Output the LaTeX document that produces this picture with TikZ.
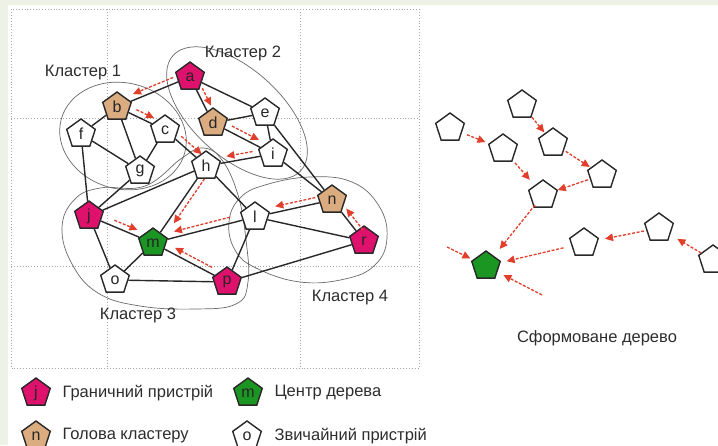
\documentclass[tikz,border=0pt]{standalone}
\usepackage{fontspec}
\setmainfont{Liberation Sans}
\usetikzlibrary{shapes.geometric,arrows.meta,calc}

\definecolor{borderdev}{RGB}{222,18,108}
\definecolor{headdev}{RGB}{218,172,128}
\definecolor{centerdev}{RGB}{28,150,34}
\definecolor{flowred}{RGB}{226,62,44}
\definecolor{edgegray}{RGB}{40,40,40}
\definecolor{gridgray}{RGB}{165,165,165}
\definecolor{clustergray}{RGB}{105,105,105}
\definecolor{paneltint}{RGB}{238,242,230}
\definecolor{labelgray}{RGB}{45,45,45}

\tikzset{
  dev/.style={regular polygon, regular polygon sides=5, minimum size=30pt,
    inner sep=0pt, draw=edgegray, line width=1.4pt,
    font=\fontsize{16}{16}\selectfont, text=black!85},
  ordinary/.style={dev, fill=white},
  border/.style={dev, fill=borderdev},
  head/.style={dev, fill=headdev},
  treecenter/.style={dev, fill=centerdev},
  link/.style={draw=edgegray, line width=1.4pt},
  flow/.style={draw=flowred, line width=1.3pt, dash pattern=on 3pt off 1.6pt,
    -{Triangle[length=8pt,width=7.5pt]}},
  cluster/.style={draw=clustergray, line width=0.7pt},
  gridline/.style={draw=gridgray, line width=0.9pt, dotted},
  caption/.style={font=\fontsize{16.5}{16.5}\selectfont, text=labelgray},
}

% routed hop drawn beside a link: from, to, start fraction, end fraction, side angle
\newcommand\flowarrow[5]{%
  \draw[flow] ($(#1)!#3!(#2)!6pt!#5:(#2)$) -- ($(#1)!#4!(#2)!6pt!#5:(#2)$);}
% hop of the formed tree: from, to, start fraction, end fraction
\newcommand\treearrow[4]{%
  \draw[flow] ($(#1)!#3!(#2)$) -- ($(#1)!#4!(#2)$);}

\begin{document}
\begin{tikzpicture}[x=1pt,y=-1pt]
\clip (0,0) rectangle (718,445);
\fill[white] (0,0) rectangle (718,445);
\fill[paneltint] (0,0) rectangle (8,445);
\fill[paneltint] (0,0) rectangle (718,5);

% dotted grid
\draw[gridline] (11,9) rectangle (419,368);
\draw[gridline] (107,9) -- (107,368);
\draw[gridline] (300,9) -- (300,368);
\draw[gridline] (11,118) -- (419,118);
\draw[gridline] (11,266) -- (419,266);

% cluster outlines
\draw[cluster, rotate around={-15:(123,136)}] (123,136) ellipse [x radius=64, y radius=53];
\draw[cluster, rotate around={-42:(237,113)}] (237,113) ellipse [x radius=86, y radius=44];
\draw[cluster] plot[smooth cycle, tension=0.7] coordinates {
  (62,228) (72,264) (98,293) (140,306) (195,309) (236,304) (248,282)
  (246,240) (238,195) (222,160) (203,148) (182,158) (145,186) (100,188) (74,200)};
\draw[cluster] plot[smooth cycle, tension=0.7] coordinates {
  (229,222) (240,198) (265,185) (310,177) (352,182) (379,206) (387,238)
  (375,265) (345,279) (300,282) (256,268) (235,250)};

% cluster captions
\node[caption] (cap1) at (83,73) {Кластер 1};
\node[caption] (cap2) at (243,53) {Кластер 2};
\node[caption] (cap3) at (138,315) {Кластер 3};
\node[caption] (cap4) at (350,298) {Кластер 4};

% devices
\node[border]     (a) at (190,77)  {a};
\node[head]       (b) at (117,107) {b};
\node[ordinary]   (c) at (165,130) {c};
\node[head]       (d) at (213,123) {d};
\node[ordinary]   (e) at (265,113) {e};
\node[ordinary]   (f) at (81,134)  {f};
\node[ordinary]   (g) at (140,171) {g};
\node[ordinary]   (h) at (206,166) {h};
\node[ordinary]   (i) at (273,154) {i};
\node[border]     (j) at (89,216)  {j};
\node[ordinary]   (l) at (255,217) {l};
\node[treecenter] (m) at (153,243) {m};
\node[head]       (n) at (332,200) {n};
\node[ordinary]   (o) at (115,280) {o};
\node[border]     (p) at (227,282) {p};
\node[border]     (r) at (364,241) {r};

% links
\draw[link] (a) -- (b);
\draw[link] (a) -- (d);
\draw[link] (a) -- (e);
\draw[link] (b) -- (c);
\draw[link] (b) -- (f);
\draw[link] (b) -- (g);
\draw[link] (c) -- (g);
\draw[link] (c) -- (h);
\draw[link] (f) -- (g);
\draw[link] (f) -- (j);
\draw[link] (g) -- (j);
\draw[link] (d) -- (e);
\draw[link] (d) -- (i);
\draw[link] (e) -- (i);
\draw[link] (e) -- (n);
\draw[link] (i) -- (h);
\draw[link] (i) -- (n);
\draw[link] (h) -- (j);
\draw[link] (h) -- (m);
\draw[link] (h) -- (l);
\draw[link] (j) -- (m);
\draw[link] (j) -- (o);
\draw[link] (m) -- (o);
\draw[link] (m) -- (l);
\draw[link] (m) -- (p);
\draw[link] (l) -- (n);
\draw[link] (l) -- (r);
\draw[link] (l) -- (p);
\draw[link] (n) -- (r);
\draw[link] (o) -- (p);
\draw[link] (p) -- (r);

% routing hops
\flowarrow{a}{b}{0.20}{0.75}{-90}
\flowarrow{a}{d}{0.30}{0.68}{90}
\flowarrow{b}{c}{0.35}{0.72}{90}
\flowarrow{c}{h}{0.30}{0.80}{90}
\flowarrow{d}{i}{0.27}{0.72}{90}
\flowarrow{i}{h}{0.29}{0.68}{-90}
\flowarrow{h}{m}{0.12}{0.70}{90}
\flowarrow{j}{m}{0.36}{0.72}{90}
\flowarrow{l}{m}{0.23}{0.78}{-90}
\flowarrow{p}{m}{0.24}{0.74}{-90}
\flowarrow{n}{l}{0.20}{0.72}{-90}
\flowarrow{r}{n}{0.18}{0.70}{-90}

% formed tree
\node[ordinary]   (t1) at (450,128) {};
\node[ordinary]   (t2) at (522,105) {};
\node[ordinary]   (t3) at (503,149) {};
\node[ordinary]   (t4) at (553,143) {};
\node[ordinary]   (t5) at (602,175) {};
\node[ordinary]   (t6) at (543,195) {};
\node[ordinary]   (t7) at (584,243) {};
\node[ordinary]   (t8) at (659,228) {};
\node[ordinary]   (t9) at (713,260) {};
\node[treecenter] (root) at (486,266) {};
\coordinate (in1) at (447,247);
\coordinate (in2) at (542,295);

\treearrow{t1}{t3}{0.32}{0.67}
\treearrow{t3}{t6}{0.30}{0.67}
\treearrow{t2}{t4}{0.32}{0.72}
\treearrow{t4}{t5}{0.26}{0.75}
\treearrow{t5}{t6}{0.24}{0.75}
\treearrow{t6}{root}{0.14}{0.76}
\treearrow{t7}{root}{0.21}{0.79}
\treearrow{t8}{t7}{0.20}{0.72}
\treearrow{t9}{t8}{0.22}{0.66}
\treearrow{in1}{root}{0}{0.60}
\treearrow{in2}{root}{0}{0.69}

\node[caption] (treecap) at (597,338) {Сформоване дерево};

% legend
\node[border]     (legj) at (36,393)  {j};
\node[treecenter] (legm) at (248,393) {m};
\node[head]       (legn) at (36,436)  {n};
\node[ordinary]   (lego) at (247,436) {o};
\node[caption, anchor=west] (legjt) at (59,393)  {Граничний пристрій};
\node[caption, anchor=west] (legmt) at (271,393) {Центр дерева};
\node[caption, anchor=west] (legnt) at (59,436)  {Голова кластеру};
\node[caption, anchor=west] (legot) at (271,436) {Звичайний пристрій};
\end{tikzpicture}
\end{document}
